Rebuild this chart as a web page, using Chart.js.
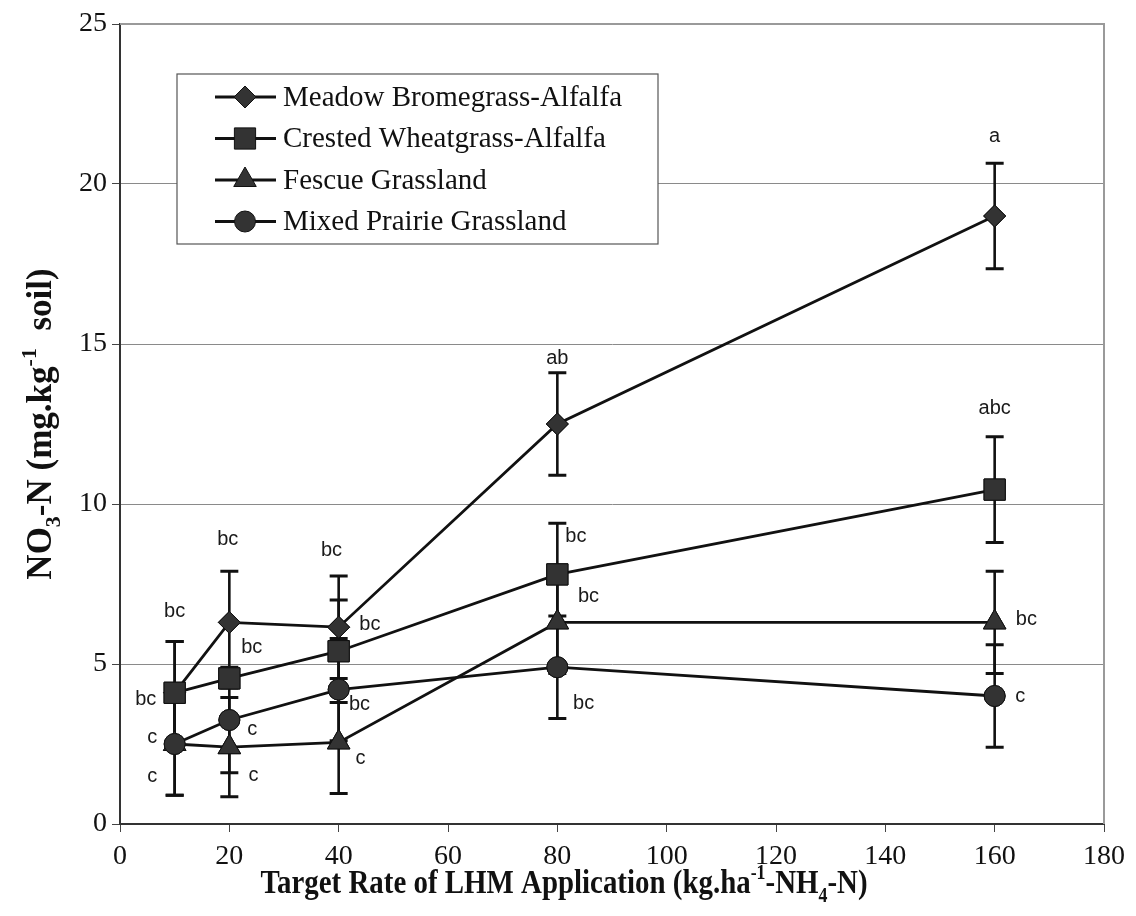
<!DOCTYPE html>
<html>
<head>
<meta charset="utf-8">
<script src="https://cdn.jsdelivr.net/npm/chart.js@4.4.1/dist/chart.umd.min.js"></script>
<style>
  html, body { margin: 0; padding: 0; background: #fff; }
  #wrap { width: 1136px; height: 916px; }
</style>
</head>
<body>
<div id="wrap"><canvas id="no3-chart" width="1136" height="916"></canvas></div>
<script>
// Target rates (kg/ha NH4-N)
const rates = [10, 20, 40, 80, 160];

// NO3-N means and error (+/-) per stand
const meadow = [4.1, 6.3, 6.15, 12.5, 19.0];
const meadowErr = [1.6, 1.6, 1.6, 1.6, 1.65];
const crested = [4.1, 4.55, 5.4, 7.8, 10.45];
const crestedErr = [1.6, 0.3, 1.6, 1.6, 1.65];
const fescue = [2.5, 2.4, 2.55, 6.3, 6.3];
const fescueErr = [1.6, 1.55, 1.6, 1.6, 1.6];
const mixed = [2.5, 3.25, 4.2, 4.9, 4.0];
const mixedErr = [1.6, 1.65, 1.6, 1.6, 1.6];

const seriesNames = ['Meadow Bromegrass-Alfalfa', 'Crested Wheatgrass-Alfalfa', 'Fescue Grassland', 'Mixed Prairie Grassland'];
const seriesStyles = ['rectRot', 'rect', 'triangle', 'circle'];
const seriesRadius = [11, 15, 13, 10.5];

// significance letters, placed in data units
const letterText = ['a', 'abc', 'bc', 'c',
                    'ab', 'bc', 'bc', 'bc',
                    'bc', 'bc', 'bc', 'c',
                    'bc', 'bc', 'c', 'c',
                    'bc', 'bc', 'c', 'c'];
const letterX = [160, 160, 165.8, 164.7,
                 80, 83.4, 85.7, 84.8,
                 38.7, 45.7, 43.8, 44.0,
                 19.7, 24.1, 24.2, 24.4,
                 10.0, 4.7, 5.9, 5.9];
const letterY = [21.5, 13.0, 6.4, 3.97,
                 14.55, 8.97, 7.1, 3.78,
                 8.56, 6.22, 3.72, 2.06,
                 8.9, 5.53, 2.94, 1.53,
                 6.63, 3.88, 2.69, 1.5];

const xTicks = [0, 20, 40, 60, 80, 100, 120, 140, 160, 180];
const yTicks = [0, 5, 10, 15, 20, 25];

const SERIF = '"Liberation Serif", "Times New Roman", serif';
const SANS = '"Liberation Sans", Arial, sans-serif';

function toPoints(ys) {
    return rates.map((r, i) => ({ x: r, y: ys[i] }));
}

function makeSet(i, ys, errs, order) {
    return {
        label: seriesNames[i],
        data: toPoints(ys),
        errors: errs,
        borderColor: '#111',
        borderWidth: 2.8,
        pointStyle: seriesStyles[i],
        pointRadius: seriesRadius[i],
        pointBackgroundColor: '#333',
        pointBorderColor: '#111',
        pointBorderWidth: 1,
        tension: 0,
        fill: false,
        order: order
    };
}

// vertical error bars with caps, markers redrawn on top
const errorBars = {
    id: 'errorBars',
    afterDatasetsDraw(chart) {
        const ctx = chart.ctx;
        const xs = chart.scales.x, ys = chart.scales.y;
        ctx.save();
        ctx.strokeStyle = '#111';
        chart.data.datasets.forEach(ds => {
            ds.data.forEach((p, i) => {
                const e = ds.errors[i];
                const px = xs.getPixelForValue(p.x);
                const top = ys.getPixelForValue(p.y + e);
                const bot = ys.getPixelForValue(p.y - e);
                ctx.lineWidth = 2.6;
                ctx.beginPath();
                ctx.moveTo(px, top);
                ctx.lineTo(px, bot);
                ctx.stroke();
                ctx.lineWidth = 3;
                ctx.beginPath();
                ctx.moveTo(px - 9, top); ctx.lineTo(px + 9, top);
                ctx.moveTo(px - 9, bot); ctx.lineTo(px + 9, bot);
                ctx.stroke();
            });
        });
        chart.data.datasets.map((d, i) => i).sort((a, b) => chart.data.datasets[b].order - chart.data.datasets[a].order)
            .forEach(i => {
                const meta = chart.getDatasetMeta(i);
                meta.data.forEach(el => el.draw(ctx, chart.chartArea));
            });
        ctx.restore();
    }
};

function drawRich(ctx, parts, size, x, y, hscale) {
    // parts: [text, 'n' | 'sub' | 'sup']
    const small = Math.round(size * 0.62);
    let total = 0;
    const widths = parts.map(p => {
        ctx.font = 'bold ' + (p[1] === 'n' ? size : small) + 'px ' + SERIF;
        const w = ctx.measureText(p[0]).width;
        total += w;
        return w;
    });
    ctx.save();
    ctx.translate(x, y);
    ctx.scale(hscale, 1);
    let cx = -total / 2;
    ctx.textAlign = 'left';
    ctx.textBaseline = 'alphabetic';
    parts.forEach((p, i) => {
        let dy = 0;
        if (p[1] === 'sub') dy = size * 0.25;
        if (p[1] === 'sup') dy = -size * 0.42;
        ctx.font = 'bold ' + (p[1] === 'n' ? size : small) + 'px ' + SERIF;
        ctx.fillText(p[0], cx, dy);
        cx += widths[i];
    });
    ctx.restore();
}

const decorations = {
    id: 'decorations',
    beforeDatasetsDraw(chart) {
        const { ctx, chartArea: a } = chart;
        ctx.save();
        ctx.strokeStyle = '#9a9a9a';
        ctx.lineWidth = 2;
        ctx.beginPath();
        ctx.moveTo(a.left, a.top);
        ctx.lineTo(a.right, a.top);
        ctx.lineTo(a.right, a.bottom);
        ctx.stroke();
        ctx.restore();
    },
    afterDraw(chart) {
        const { ctx, chartArea: a } = chart;
        const xs = chart.scales.x, ys = chart.scales.y;
        ctx.save();

        // letters
        ctx.fillStyle = '#1a1a1a';
        ctx.font = '20px ' + SANS;
        ctx.textAlign = 'center';
        ctx.textBaseline = 'middle';
        letterText.forEach((t, i) => {
            ctx.fillText(t, xs.getPixelForValue(letterX[i]), ys.getPixelForValue(letterY[i]));
        });

        // legend box
        const lx = a.left + 57, ly = a.top + 50, lw = 481, lh = 170;
        ctx.fillStyle = '#fff';
        ctx.fillRect(lx, ly, lw, lh);
        ctx.strokeStyle = '#555';
        ctx.lineWidth = 1.2;
        ctx.strokeRect(lx, ly, lw, lh);
        seriesNames.forEach((name, i) => {
            const ry = ly + 23 + i * 41.5;
            ctx.strokeStyle = '#111';
            ctx.lineWidth = 2.8;
            ctx.beginPath();
            ctx.moveTo(lx + 38, ry);
            ctx.lineTo(lx + 99, ry);
            ctx.stroke();
            ctx.fillStyle = '#333';
            ctx.lineWidth = 1;
            Chart.helpers.drawPoint(ctx, { pointStyle: seriesStyles[i], radius: seriesRadius[i], rotation: 0, borderWidth: 1 }, lx + 68, ry);
            ctx.fillStyle = '#111';
            ctx.font = '29px ' + SERIF;
            ctx.textAlign = 'left';
            ctx.textBaseline = 'middle';
            ctx.fillText(name, lx + 106, ry + 1);
        });

        // axis titles
        ctx.fillStyle = '#111';
        drawRich(ctx, [['Target Rate of LHM Application (kg.ha', 'n'], ['-1', 'sup'], ['-NH', 'n'], ['4', 'sub'], ['-N)', 'n']],
            34, 564, 893, 0.85);
        ctx.translate(51, (a.top + a.bottom) / 2);
        ctx.rotate(-Math.PI / 2);
        drawRich(ctx, [['NO', 'n'], ['3', 'sub'], ['-N (mg.kg', 'n'], ['-1', 'sup'], ['  soil)', 'n']], 35, 0, 0, 1);
        ctx.restore();
    }
};

const ctx = document.getElementById('no3-chart').getContext('2d');
const no3Chart = new Chart(ctx, {
    type: 'line',
    data: {
        datasets: [
            makeSet(0, meadow, meadowErr, 4),
            makeSet(1, crested, crestedErr, 3),
            makeSet(2, fescue, fescueErr, 2),
            makeSet(3, mixed, mixedErr, 1)
        ]
    },
    options: {
        responsive: false,
        animation: false,
        devicePixelRatio: 1,
        layout: { padding: { top: 24, right: 32, left: 0, bottom: 0 } },
        plugins: { legend: { display: false }, tooltip: { enabled: false } },
        scales: {
            x: {
                type: 'linear',
                min: 0,
                max: 180,
                afterBuildTicks(scale) { scale.ticks = xTicks.map(v => ({ value: v })); },
                afterFit(scale) { scale.height = 92; },
                ticks: { color: '#111', font: { family: SERIF, size: 28 }, padding: 8, maxRotation: 0 },
                grid: { color: 'transparent', drawTicks: true, tickLength: 8, tickColor: '#444', tickWidth: 1 },
                border: { display: true, color: '#333', width: 2 }
            },
            y: {
                type: 'linear',
                min: 0,
                max: 25,
                afterBuildTicks(scale) { scale.ticks = yTicks.map(v => ({ value: v })); },
                afterFit(scale) { scale.width = 120; },
                ticks: { color: '#111', font: { family: SERIF, size: 28 }, padding: 5 },
                grid: { color: '#8a8a8a', lineWidth: 1, drawTicks: true, tickLength: 8, tickColor: '#444' },
                border: { display: true, color: '#333', width: 2 }
            }
        }
    },
    plugins: [decorations, errorBars]
});
</script>
</body>
</html>
